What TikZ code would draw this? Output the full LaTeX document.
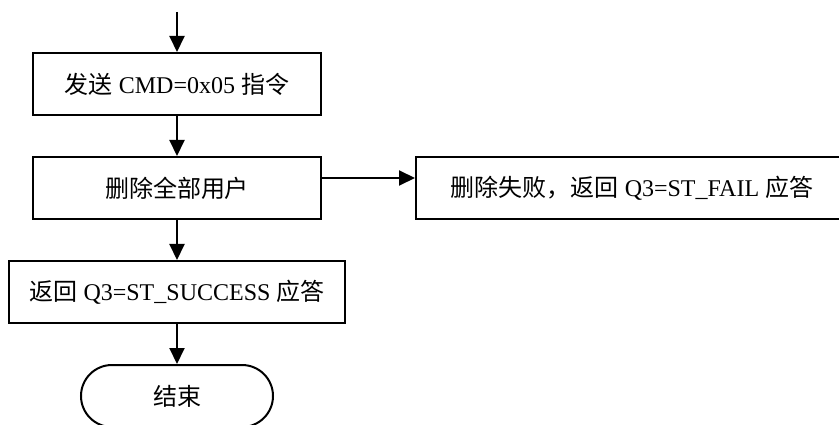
\documentclass[tikz,border=0pt]{standalone}
\usepackage{fontspec}
\setmainfont{Liberation Serif}
\newfontfamily\cjk{Noto Sans CJK SC}
\usetikzlibrary{arrows.meta,shapes.misc}
\tikzset{
  procbox/.style={draw, line width=2pt, minimum height=62pt, inner sep=0pt, font=\fontsize{24pt}{27pt}\selectfont},
  termbox/.style={draw, line width=2pt, rounded rectangle, minimum height=62pt, minimum width=192pt, inner sep=0pt, font=\fontsize{24pt}{27pt}\selectfont},
  flow/.style={line width=2pt, -{Triangle[length=16pt,width=15pt]}}
}
\begin{document}
\begin{tikzpicture}[x=1pt,y=1pt]
\useasboundingbox (0,0) rectangle (839,-425);
\clip (0,0) rectangle (839,-425);
\coordinate (start) at (177,-12);
\node[procbox, minimum width=288pt] (b1) at (177,-84) {{\cjk 发送} CMD=0x05 {\cjk 指令}};
\node[procbox, minimum width=288pt] (b2) at (177,-188) {\cjk 删除全部用户};
\node[procbox, minimum width=432pt] (b3) at (632,-188) {{\cjk 删除失败，返回} Q3=ST\_FAIL {\cjk 应答}};
\node[procbox, minimum width=336pt] (b4) at (177,-292) {{\cjk 返回} Q3=ST\_SUCCESS {\cjk 应答}};
\node[termbox] (end) at (177,-396) {\cjk 结束};
\draw[flow] (start) -- (b1.north);
\draw[flow] (b1) -- (b2);
\draw[flow] ([yshift=10pt]b2.east) -- ([yshift=10pt]b3.west);
\draw[flow] (b2) -- (b4);
\draw[flow] (b4) -- (end);
\end{tikzpicture}
\end{document}
